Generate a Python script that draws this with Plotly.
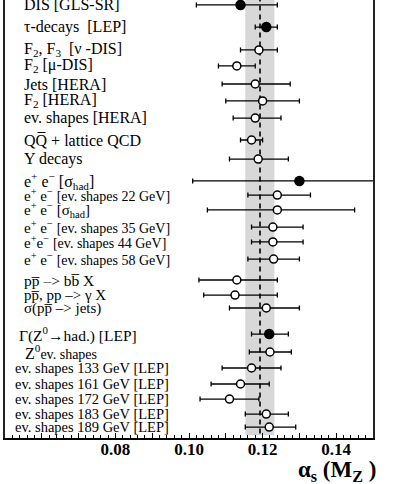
import plotly.graph_objects as go

# ---- data ----
labels = [
    "DIS [GLS-SR]",
    "τ-decays  [LEP]",
    "F<sub>2</sub>, F<sub>3</sub>  [ν -DIS]",
    "F<sub>2</sub> [μ-DIS]",
    "Jets [HERA]",
    "F<sub>2</sub> [HERA]",
    "ev. shapes [HERA]",
    "QQ\u0305 + lattice QCD",
    "Υ decays",
    "e<sup>+</sup> e<sup>−</sup> [σ<sub>had</sub>]",
    "e<sup>+</sup> e<sup>−</sup> <span style='font-size:14px'>[ev. shapes 22 GeV]</span>",
    "e<sup>+</sup> e<sup>−</sup> [σ<sub>had</sub>]",
    "e<sup>+</sup> e<sup>−</sup> <span style='font-size:14px'>[ev. shapes 35 GeV]</span>",
    "e<sup>+</sup>e<sup>−</sup> <span style='font-size:14px'>[ev. shapes 44 GeV]</span>",
    "e<sup>+</sup> e<sup>−</sup> <span style='font-size:14px'>[ev. shapes 58 GeV]</span>",
    "pp\u0305 \u2013> bb\u0305 X",
    "pp\u0305, pp \u2013> γ X",
    "σ(pp\u0305 \u2013> jets)",
    "Γ(Z<sup>0</sup>→had.) [LEP]",
    "Z<sup>0</sup><span style='font-size:14px'>ev. shapes</span>",
    "ev. shapes 133 GeV [LEP]",
    "ev. shapes 161 GeV [LEP]",
    "ev. shapes 172 GeV [LEP]",
    "ev. shapes 183 GeV [LEP]",
    "ev. shapes 189 GeV [LEP]",
]
# row slot of each measurement (top to bottom)
row_pos = [0.31, 1.69, 3.12, 4.12, 5.25, 6.31, 7.38, 8.75, 9.94,
           11.31, 12.19, 13.12, 14.19, 15.12, 16.19,
           17.5, 18.44, 19.25,
           20.88, 22.0, 23.0, 24.0, 24.94, 25.88, 26.69]
alpha_s = [0.114, 0.121, 0.119, 0.113, 0.118, 0.120, 0.118, 0.117, 0.1188,
           0.130, 0.124, 0.124, 0.1228, 0.1228, 0.123,
           0.113, 0.1125, 0.121,
           0.1218, 0.122, 0.117, 0.114, 0.111, 0.121, 0.1218]
err_lo = [0.102, 0.118, 0.114, 0.108, 0.109, 0.110, 0.112, 0.114, 0.111,
          0.101, 0.116, 0.105, 0.117, 0.117, 0.116,
          0.1027, 0.104, 0.111,
          0.117, 0.1164, 0.109, 0.106, 0.103, 0.1153, 0.1153]
err_hi = [0.124, 0.124, 0.124, 0.118, 0.1275, 0.130, 0.125, 0.120, 0.127,
          0.151, 0.133, 0.145, 0.131, 0.131, 0.130,
          0.124, 0.124, 0.130,
          0.127, 0.1278, 0.125, 0.1218, 0.119, 0.127, 0.129]
filled = [True, True, False, False, False, False, False, False, False,
          True, False, False, False, False, False,
          False, False, False,
          True, False, False, False, False, False, False]
world_avg = 0.1193
band_lo, band_hi = 0.1153, 0.1232
tick_vals = [0.05, 0.06, 0.07, 0.08, 0.09, 0.10, 0.11, 0.12, 0.13, 0.14, 0.15]
tick_text = ["", "", "", "0.08", "", "0.10", "", "0.12", "", "0.14", ""]

# ---- styles ----
label_size = [16]*10 + [15]*5 + [15.5, 15, 15] + [15.5, 16] + [14.5]*5
label_indent = [17]*18 + [12, 18] + [8]*5   # px from left axis

SERIF = "Liberation Serif"

fig = go.Figure()
for flag in (False, True):
    idx = [i for i in range(len(alpha_s)) if filled[i] == flag]
    fig.add_trace(go.Scatter(
        x=[alpha_s[i] for i in idx],
        y=[row_pos[i] for i in idx],
        mode="markers",
        marker=dict(size=9 if flag else 8, symbol="circle",
                    color="black" if flag else "white",
                    line=dict(color="black", width=1.5)),
        error_x=dict(type="data", symmetric=False,
                     array=[err_hi[i] - alpha_s[i] for i in idx],
                     arrayminus=[alpha_s[i] - err_lo[i] for i in idx],
                     color="black", thickness=1.3, width=2.5),
        showlegend=False, hoverinfo="skip",
    ))

fig.add_shape(type="rect", xref="x", yref="paper", x0=band_lo, x1=band_hi,
              y0=0.006, y1=1, fillcolor="#d8d8d8", line=dict(width=0), layer="below")
fig.add_shape(type="line", xref="x", yref="paper", x0=world_avg, x1=world_avg,
              y0=0.01, y1=1, line=dict(color="black", width=1.6, dash="5px,4px"),
              layer="below")

for i, lab in enumerate(labels):
    fig.add_annotation(x=label_indent[i] / 368.0, xref="paper", y=row_pos[i], yref="y",
                       text=lab, showarrow=False, xanchor="left", yanchor="middle",
                       font=dict(family=SERIF, size=label_size[i], color="black"))

fig.add_annotation(x=1.014, xref="paper", y=-0.075, yref="paper",
                   text="<b>α<sub>s</sub> (M<sub>Z</sub> )</b>", showarrow=False,
                   xanchor="right", yanchor="middle",
                   font=dict(family=SERIF, size=23, color="black"))

fig.update_layout(
    width=415, height=484,
    margin=dict(l=5, r=42, t=0, b=46),
    paper_bgcolor="white", plot_bgcolor="white",
    xaxis=dict(range=[0.05, 0.15], tickmode="array", tickvals=tick_vals,
               ticktext=tick_text, ticks="inside", ticklen=5, tickwidth=1,
               tickcolor="black", showline=True, linecolor="black", linewidth=1.5,
               mirror=False, showgrid=False, zeroline=False,
               ticklabelstandoff=-5,
               tickfont=dict(family=SERIF, size=17, color="black", weight="bold"),
               minor=dict(dtick=0.002, ticks="inside", ticklen=3, tickcolor="black",
                          showgrid=False)),
    yaxis=dict(range=[27.375, 0], showline=True, linecolor="#222", linewidth=2,
               mirror=True, showticklabels=False, ticks="", showgrid=False,
               zeroline=False),
)

fig.write_html("out.html", config={"displayModeBar": False},
               post_script="document.body.style.margin='0';document.body.style.overflow='hidden';")
